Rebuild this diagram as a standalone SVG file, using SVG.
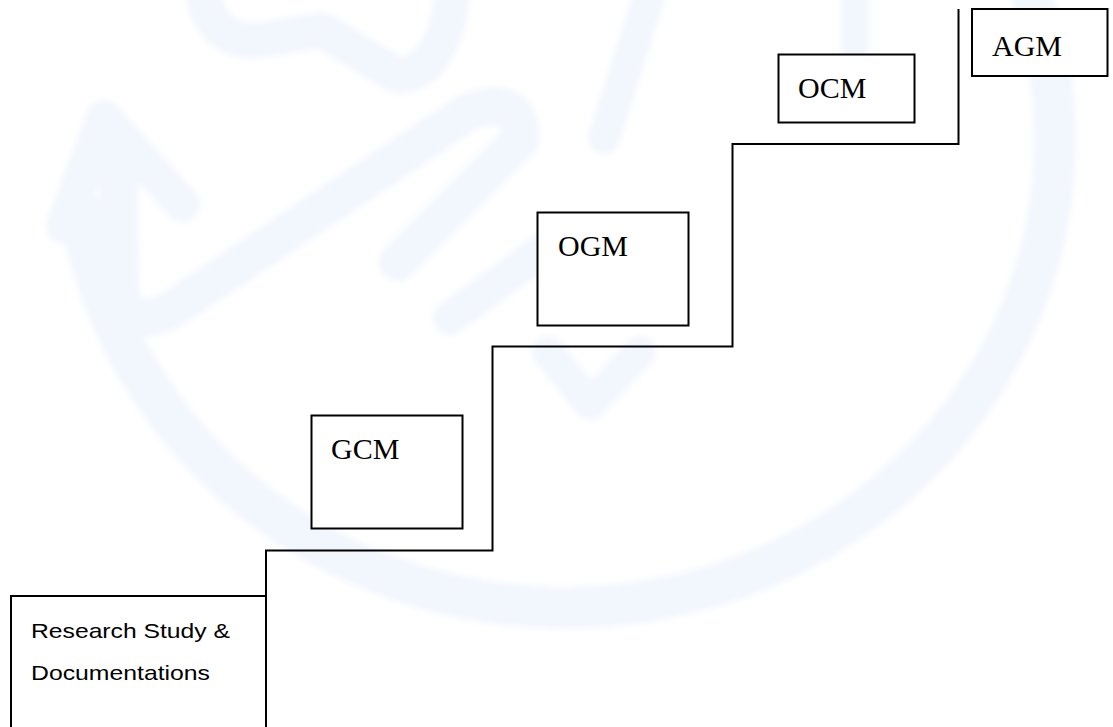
<svg xmlns="http://www.w3.org/2000/svg" width="1113" height="727" viewBox="0 0 1113 727">
  <style>
    .box { fill: #ffffff; stroke: #000000; stroke-width: 2; }
    .stair { fill: none; stroke: #000000; stroke-width: 2; }
    .serif { font-family: "Liberation Serif", "Times New Roman", serif; font-size: 30px; fill: #000000; }
    .sans { font-family: "Liberation Sans", Arial, sans-serif; font-size: 21px; fill: #000000; }
    .wm { fill: none; stroke: #f2f6fd; stroke-linecap: round; stroke-linejoin: round; }
  </style>
  <defs>
    <filter id="soft" x="-10%" y="-10%" width="120%" height="120%">
      <feGaussianBlur stdDeviation="3"/>
    </filter>
  </defs>
  <rect x="0" y="0" width="1113" height="727" fill="#ffffff"/>
  <g id="watermark" filter="url(#soft)">
    <path class="wm" d="M80.5,210 A490,468 0 1 0 1032.6,0" stroke-width="42"/>
    <polyline class="wm" points="64,226 104,118 182,204" stroke-width="36"/>
    <path class="wm" d="M118,140 L120,290 Q124,330 168,312 L468,112 Q522,92 520,140 L398,262" stroke-width="38"/>
    <path class="wm" d="M450,318 L560,238" stroke-width="34"/>
    <path class="wm" d="M205,0 Q215,45 262,40 L322,30 Q352,48 398,76 Q440,74 452,0" stroke-width="36"/>
    <path class="wm" d="M648,0 L604,138" stroke-width="32"/>
    <path class="wm" d="M548,352 L590,404 L640,352" stroke-width="32"/>
    <path class="wm" d="M855,0 L855,48" stroke-width="28"/>
  </g>
  <g id="connectors">
    <path class="stair" d="M266,596 L266,550.5 L492.5,550.5 L492.5,346.5 L732.5,346.5 L732.5,144 L958.5,144 L958.5,9"/>
  </g>
  <g id="node-research">
    <rect class="box" x="11" y="596" width="255" height="140"/>
    <text class="sans" x="31" y="638" textLength="199" lengthAdjust="spacingAndGlyphs">Research Study &amp;</text>
    <text class="sans" x="31" y="680" textLength="179" lengthAdjust="spacingAndGlyphs">Documentations</text>
  </g>
  <g id="node-gcm">
    <rect class="box" x="311.5" y="415.5" width="151" height="113"/>
    <text class="serif" x="331" y="459">GCM</text>
  </g>
  <g id="node-ogm">
    <rect class="box" x="537.5" y="212.5" width="151" height="113"/>
    <text class="serif" x="558" y="256">OGM</text>
  </g>
  <g id="node-ocm">
    <rect class="box" x="778.5" y="54.5" width="136" height="68"/>
    <text class="serif" x="798" y="98">OCM</text>
  </g>
  <g id="node-agm">
    <rect class="box" x="972" y="9" width="135.5" height="67"/>
    <text class="serif" x="992" y="56">AGM</text>
  </g>
</svg>
